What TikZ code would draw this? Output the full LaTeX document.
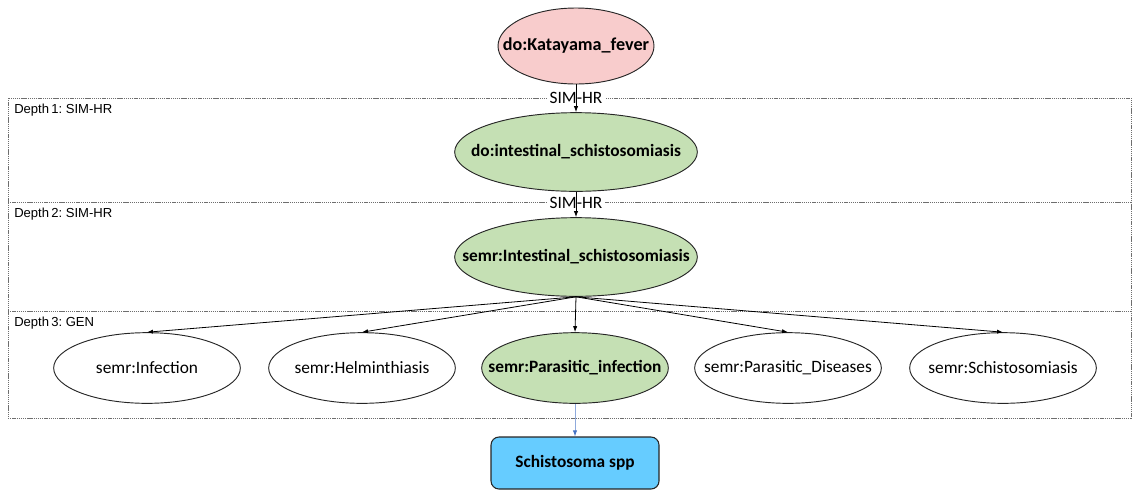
\documentclass[tikz,border=0pt]{standalone}
\usepackage{fontspec}
\setmainfont{Carlito}
\newfontfamily\arialfont{Liberation Sans}
\usetikzlibrary{shapes.geometric,arrows.meta}
\definecolor{pinkfill}{RGB}{248,204,204}
\definecolor{greenfill}{RGB}{197,224,180}
\definecolor{bluefill}{RGB}{102,204,255}
\definecolor{bluearrow}{RGB}{68,114,196}
\definecolor{blueline}{RGB}{143,170,220}
\definecolor{framegray}{RGB}{110,110,110}
\frenchspacing
% ellipse text is given no width, so the minimum size alone sets the ellipse
\newcommand{\ctext}[1]{\makebox[0pt]{#1}}
\begin{document}
\begin{tikzpicture}[x=0.75pt,y=-0.75pt,
  concept/.style={ellipse,draw=black!85,line width=0.7pt,inner sep=0pt,
    font=\fontsize{13}{15}\selectfont},
  keyconcept/.style={concept,font=\fontsize{13}{15}\selectfont\bfseries},
  bigconcept/.style={keyconcept,minimum width=182pt,minimum height=59pt},
  rowconcept/.style={concept,minimum width=140pt,minimum height=53pt},
  frameline/.style={draw=framegray,line width=0.6pt,dash pattern=on 1pt off 0.6pt},
  depthlabel/.style={anchor=west,inner sep=0pt,font=\arialfont\fontsize{9.8}{11}\selectfont},
  edgelabel/.style={fill=white,inner sep=2pt,font=\fontsize{13}{15}\selectfont},
  link/.style={draw=black,line width=0.6pt,-{Latex[length=4.5pt,width=3.2pt]}}]
\useasboundingbox (0,0) rectangle (1134,490);

% depth frame and its dividers
\draw[frameline] (8,98) rectangle (1131,418);
\draw[frameline] (8,202) -- (1131,202);
\draw[frameline] (8,311) -- (1131,311);
\node[depthlabel] (d1) at (14,110) {Depth\,1: SIM-HR};
\node[depthlabel] (d2) at (14,214) {Depth\,2: SIM-HR};
\node[depthlabel] (d3) at (14,323) {Depth\,3: GEN};

% concepts
\node[keyconcept,fill=pinkfill,minimum width=117pt,minimum height=57pt,font=\fontsize{13.6}{15}\selectfont\bfseries] (kf) at (576,46) {\ctext{do:Katayama\_fever}};
\node[bigconcept,fill=greenfill] (di) at (576,152) {\ctext{do:intestinal\_schistosomiasis}};
\node[bigconcept,fill=greenfill] (si) at (576,257) {\ctext{semr:Intestinal\_schistosomiasis}};

\node[rowconcept] (inf) at (147,368) {\ctext{semr:Infection}};
\node[rowconcept] (hel) at (362,368) {\ctext{semr:Helminthiasis}};
\node[rowconcept,fill=greenfill,font=\fontsize{13}{15}\selectfont\bfseries] (pin) at (575,368) {\ctext{semr:Parasitic\_infection}};
\node[rowconcept] (pdis) at (788,368) {\ctext{semr:Parasitic\_Diseases}};
\node[rowconcept] (sch) at (1003,368) {\ctext{semr:Schistosomiasis}};

\node[draw=black!85,line width=0.8pt,fill=bluefill,rounded corners=6pt,
  minimum width=126pt,minimum height=39pt,inner sep=0pt,
  font=\fontsize{13}{15}\selectfont\bfseries] (spp) at (575,463) {Schistosoma spp};

% relation labels on the frame
\node[edgelabel] (r1) at (576,98) {SIM-HR};
\node[edgelabel] (r2) at (576,203) {SIM-HR};

% connectors
\draw[link] (kf.south) -- (di.north);
\draw[link] (di.south) -- (si.north);
\foreach \t in {inf,hel,pin,pdis,sch}
  \draw[link] (si.south) -- (\t.north);
\draw[draw=blueline,line width=0.6pt,-{Latex[length=4.5pt,width=3.2pt,color=bluearrow]}] (pin.south) -- (spp.north);
\end{tikzpicture}
\end{document}
